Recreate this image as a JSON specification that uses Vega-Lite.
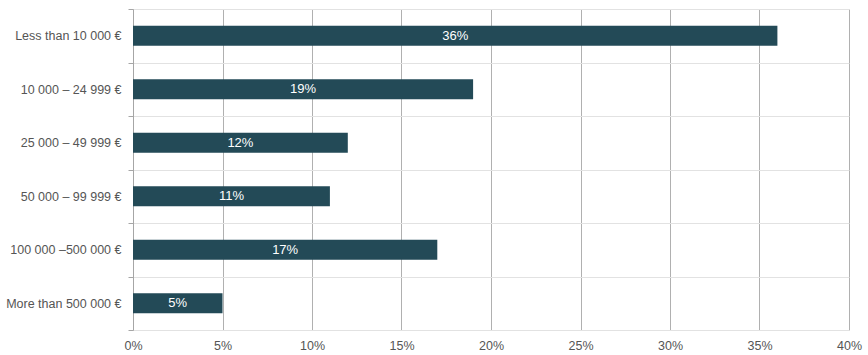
{
  "$schema": "https://vega.github.io/schema/vega-lite/v6.json",
  "width": 716,
  "height": 321,
  "autosize": {"type": "none"},
  "padding": {"left": 133, "top": 9, "right": 19, "bottom": 25},
  "background": "white",
  "config": {
    "view": {"stroke": null},
    "font": "Liberation Sans"
  },
  "data": {
    "values": [
      {"category": "Less than 10 000 €", "share": 0.36},
      {"category": "10 000 – 24 999 €", "share": 0.19},
      {"category": "25 000 – 49 999 €", "share": 0.12},
      {"category": "50 000 – 99 999 €", "share": 0.11},
      {"category": "100 000 –500 000 €", "share": 0.17},
      {"category": "More than 500 000 €", "share": 0.05}
    ]
  },
  "transform": [{"calculate": "datum.share / 2", "as": "labelPos"}],
  "encoding": {
    "y": {
      "field": "category",
      "type": "nominal",
      "sort": null,
      "title": null,
      "scale": {"paddingInner": 0, "paddingOuter": 0},
      "axis": {
        "tickBand": "extent",
        "grid": true,
        "gridColor": "#e2e2e2",
        "domainColor": "#a6a6a6",
        "tickColor": "#a6a6a6",
        "tickSize": 5,
        "labelPadding": 7,
        "labelFontSize": 12.5,
        "labelColor": "#555555",
        "labelFont": "Liberation Sans"
      }
    }
  },
  "layer": [
    {
      "mark": {"type": "bar", "color": "#234a57", "height": {"band": 0.375}},
      "encoding": {
        "x": {
          "field": "share",
          "type": "quantitative",
          "title": null,
          "scale": {"domain": [0, 0.4], "nice": false},
          "axis": {
            "values": [0, 0.05, 0.1, 0.15, 0.2, 0.25, 0.3, 0.35, 0.4],
            "format": ".0%",
            "grid": true,
            "gridColor": "#b0b0b0",
            "domain": false,
            "ticks": false,
            "labelFlush": false,
            "labelPadding": 9,
            "labelFontSize": 12.5,
            "labelColor": "#555555",
            "labelFont": "Liberation Sans"
          }
        }
      }
    },
    {
      "mark": {"type": "text", "color": "white", "fontSize": 13, "font": "Liberation Sans", "baseline": "middle", "align": "center"},
      "encoding": {
        "x": {"field": "labelPos", "type": "quantitative"},
        "text": {"field": "share", "type": "quantitative", "format": ".0%"}
      }
    }
  ]
}
